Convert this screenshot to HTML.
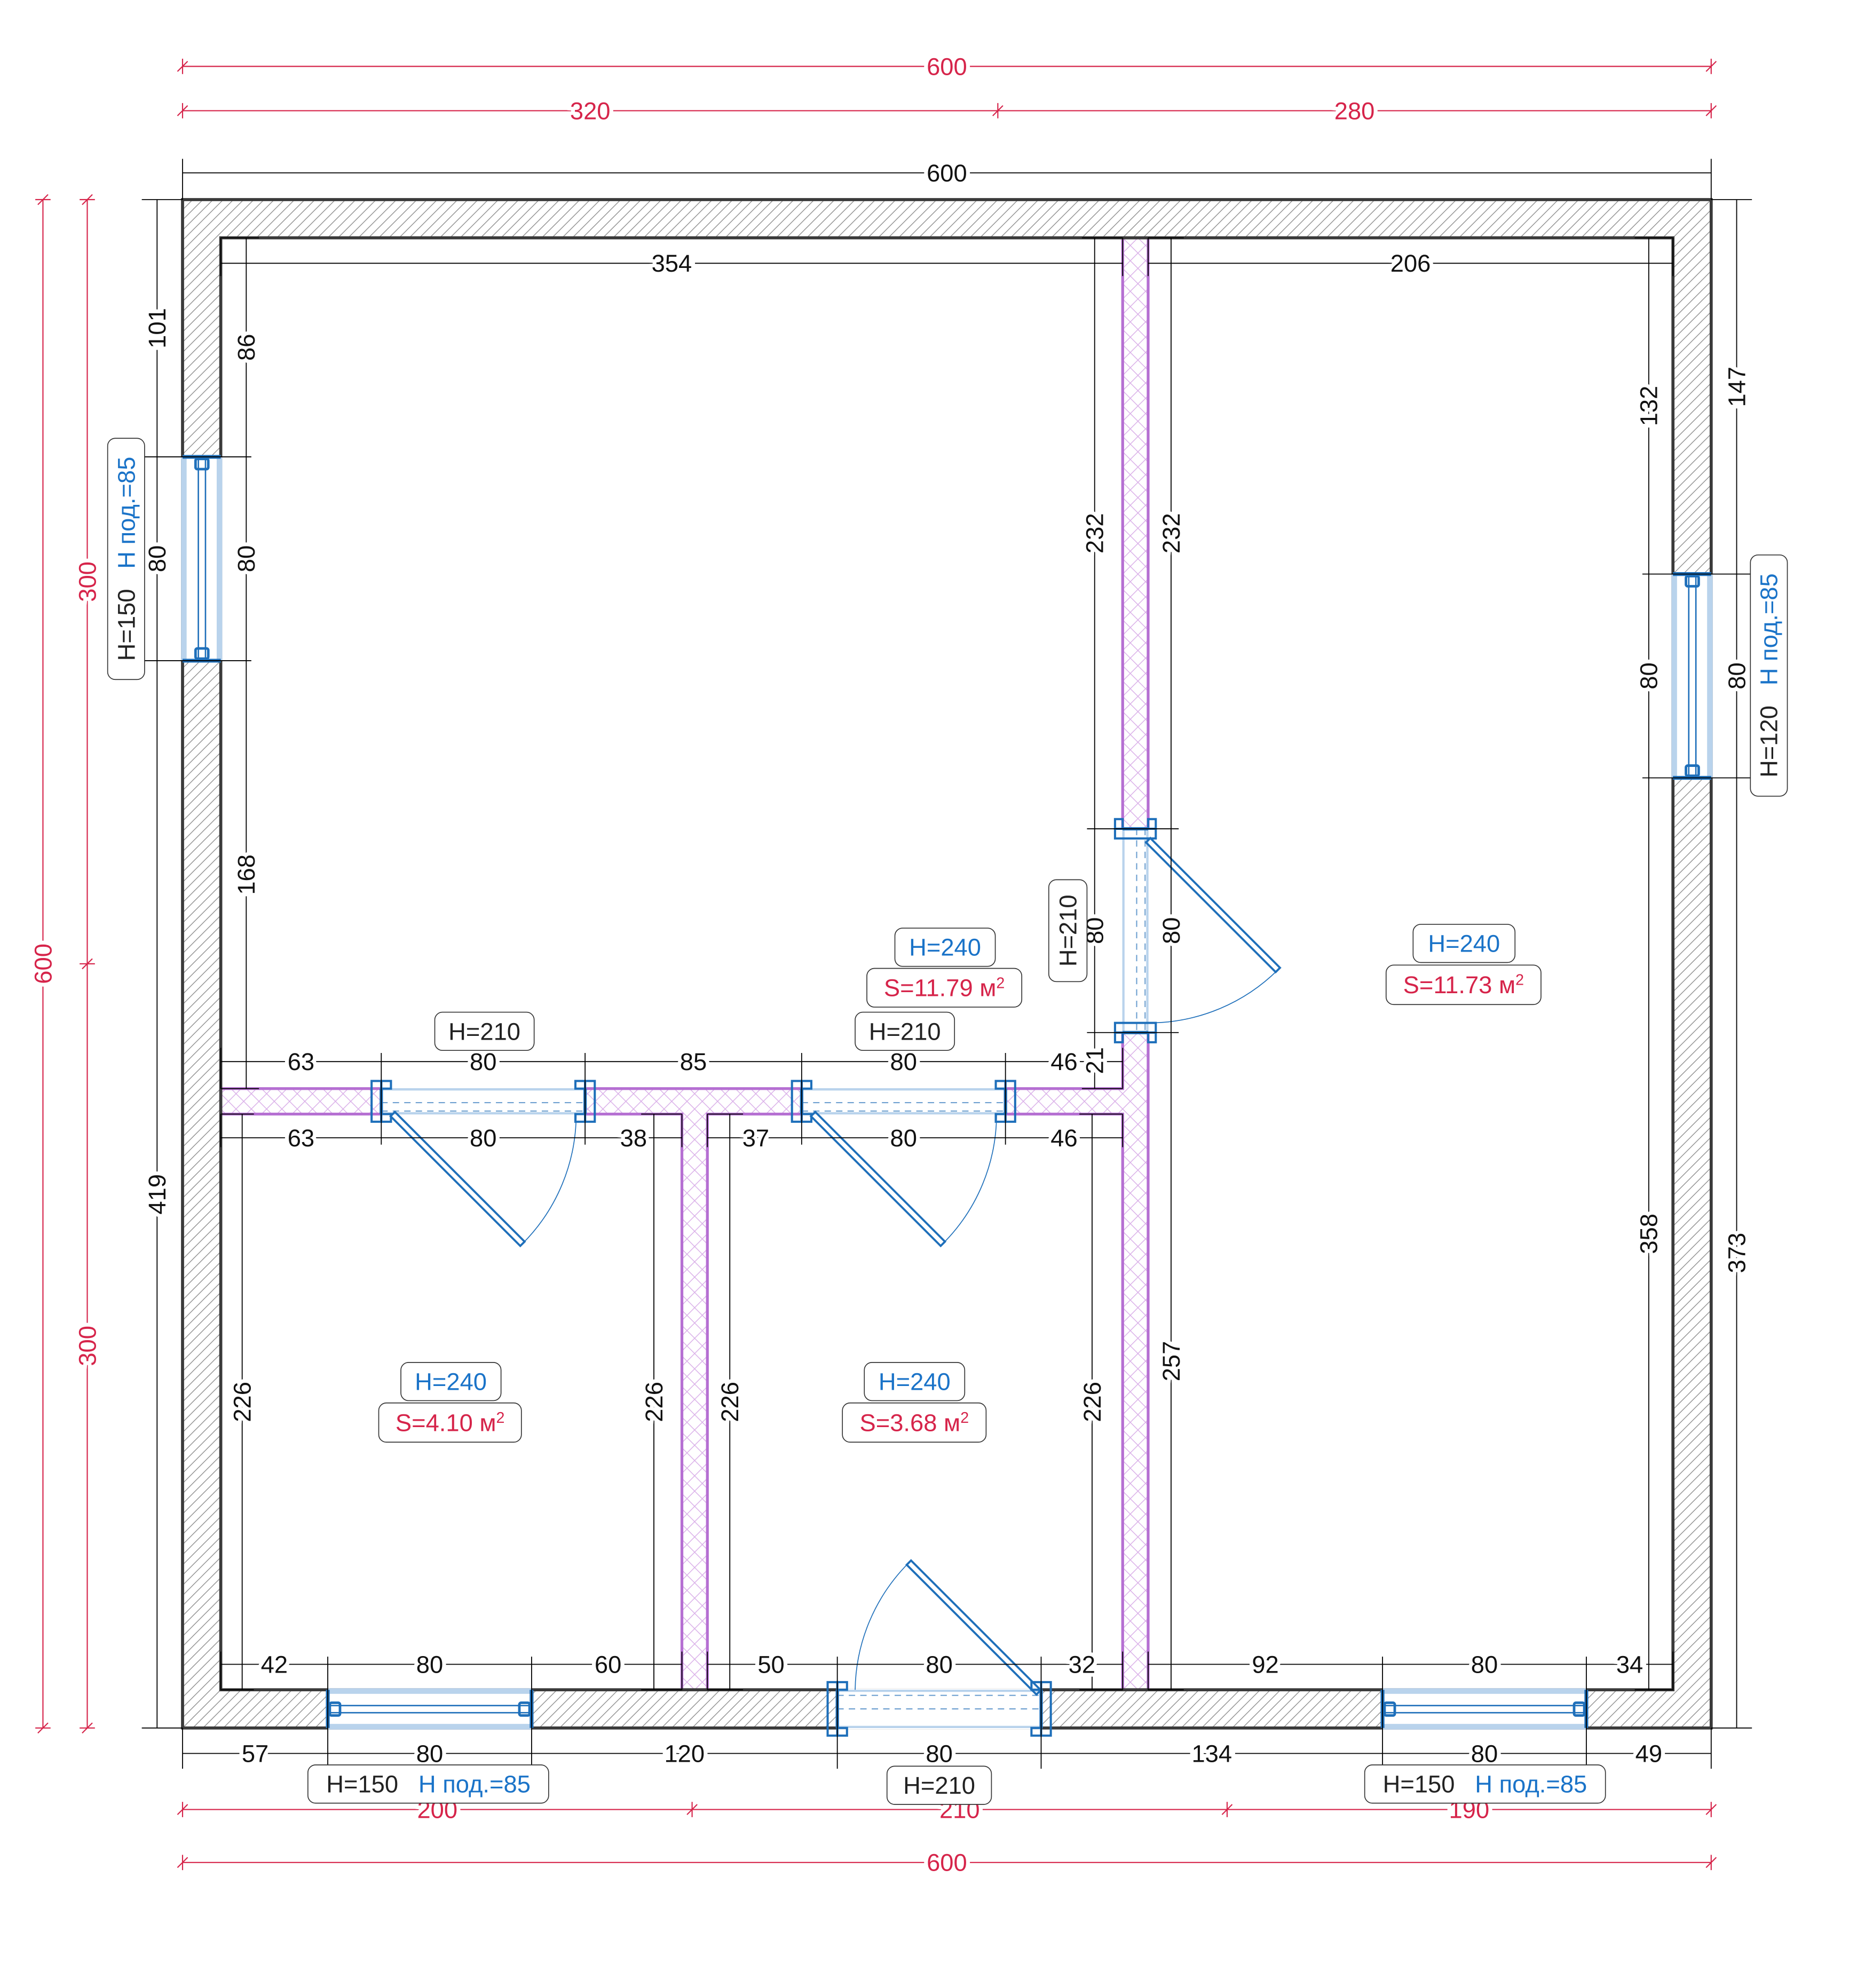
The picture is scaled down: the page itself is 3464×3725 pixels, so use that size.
<!DOCTYPE html>
<html><head><meta charset="utf-8"><style>
html,body{margin:0;padding:0;background:#fff}
svg{display:block}
text{font-family:"Liberation Sans",sans-serif;font-size:9.5px;text-anchor:middle}
.t{fill:#111;stroke:#fff;stroke-width:3;paint-order:stroke}
.tr{fill:#d6244a;stroke:#fff;stroke-width:3;paint-order:stroke}
.d{stroke:#000;stroke-width:.38;fill:none}
.r{stroke:#d6244a;stroke-width:.45;fill:none}
.box{fill:#fff;stroke:#333;stroke-width:.35}
.bl{fill:#1a73c8}
.rd{fill:#d6244a}
.bk{fill:#222}
.wb{stroke:#1e6fba;fill:none}
</style></head><body>
<svg width="3464" height="3725" viewBox="0 0 3464 3725" xmlns="http://www.w3.org/2000/svg">
<defs>
<pattern id="hatch" patternUnits="userSpaceOnUse" width="4" height="4">
<path d="M-1,1 L1,-1 M0,4 L4,0 M3,5 L5,3" stroke="#8a8a8a" stroke-width=".28"/>
</pattern>
<pattern id="cross" patternUnits="userSpaceOnUse" width="6" height="6">
<rect width="6" height="6" fill="#fff"/>
<path d="M0,0 L6,6 M0,6 L6,0" stroke="#d9aee8" stroke-width=".3"/>
</pattern>
</defs>
<rect width="3464" height="3725" fill="#fff"/>
<g transform="translate(342 374) scale(4.773)">

<path d="M0,0 H600 V600 H0 Z M15,15 V585 H585 V15 Z" fill="url(#hatch)" fill-rule="evenodd"/>
<path d="M15,349 H369 V15 H379 V585 H369 V359 H206 V585 H196 V359 H15 Z" fill="url(#cross)" stroke="#b56fd2" stroke-width="1.1"/>
<rect x="0" y="0" width="600" height="600" fill="none" stroke="#3a3a3a" stroke-width="1.2"/>
<rect x="15" y="15" width="570" height="570" fill="none" stroke="#3a3a3a" stroke-width="1.2"/>

<!-- WINDOWS -->
<g>
<rect x="-0.5" y="101" width="16" height="80" fill="#fff"/>
<rect x="-0.6" y="101" width="2.2" height="80" fill="#b9d3ec"/>
<rect x="13.4" y="101" width="2.2" height="80" fill="#b9d3ec"/>
<line x1="6.2" y1="101" x2="6.2" y2="181" class="wb" stroke-width=".55"/>
<line x1="9" y1="101" x2="9" y2="181" class="wb" stroke-width=".55"/>
<line x1="0" y1="101" x2="15" y2="101" class="wb" stroke-width="1.5"/>
<line x1="0" y1="181" x2="15" y2="181" class="wb" stroke-width="1.5"/>
<rect x="5.1" y="101.8" width="5" height="4" rx=".7" class="wb" stroke-width="1" fill="#fff"/>
<rect x="5.1" y="176.2" width="5" height="4" rx=".7" class="wb" stroke-width="1" fill="#fff"/>
</g>
<g>
<rect x="584.5" y="147" width="16" height="80" fill="#fff"/>
<rect x="584.4" y="147" width="2.2" height="80" fill="#b9d3ec"/>
<rect x="598.4" y="147" width="2.2" height="80" fill="#b9d3ec"/>
<line x1="591.2" y1="147" x2="591.2" y2="227" class="wb" stroke-width=".55"/>
<line x1="594" y1="147" x2="594" y2="227" class="wb" stroke-width=".55"/>
<line x1="585" y1="147" x2="600" y2="147" class="wb" stroke-width="1.5"/>
<line x1="585" y1="227" x2="600" y2="227" class="wb" stroke-width="1.5"/>
<rect x="590.1" y="147.8" width="5" height="4" rx=".7" class="wb" stroke-width="1" fill="#fff"/>
<rect x="590.1" y="222.2" width="5" height="4" rx=".7" class="wb" stroke-width="1" fill="#fff"/>
</g>
<g>
<rect x="57" y="584.5" width="80" height="16" fill="#fff"/>
<rect x="57" y="584.4" width="80" height="2.2" fill="#b9d3ec"/>
<rect x="57" y="598.4" width="80" height="2.2" fill="#b9d3ec"/>
<line x1="57" y1="591.2" x2="137" y2="591.2" class="wb" stroke-width=".55"/>
<line x1="57" y1="594" x2="137" y2="594" class="wb" stroke-width=".55"/>
<line x1="57" y1="585" x2="57" y2="600" class="wb" stroke-width="1.5"/>
<line x1="137" y1="585" x2="137" y2="600" class="wb" stroke-width="1.5"/>
<rect x="57.8" y="590.1" width="4" height="5" rx=".7" class="wb" stroke-width="1" fill="#fff"/>
<rect x="132.2" y="590.1" width="4" height="5" rx=".7" class="wb" stroke-width="1" fill="#fff"/>
</g>
<g>
<rect x="471" y="584.5" width="80" height="16" fill="#fff"/>
<rect x="471" y="584.4" width="80" height="2.2" fill="#b9d3ec"/>
<rect x="471" y="598.4" width="80" height="2.2" fill="#b9d3ec"/>
<line x1="471" y1="591.2" x2="551" y2="591.2" class="wb" stroke-width=".55"/>
<line x1="471" y1="594" x2="551" y2="594" class="wb" stroke-width=".55"/>
<line x1="471" y1="585" x2="471" y2="600" class="wb" stroke-width="1.5"/>
<line x1="551" y1="585" x2="551" y2="600" class="wb" stroke-width="1.5"/>
<rect x="471.8" y="590.1" width="4" height="5" rx=".7" class="wb" stroke-width="1" fill="#fff"/>
<rect x="546.2" y="590.1" width="4" height="5" rx=".7" class="wb" stroke-width="1" fill="#fff"/>
</g>

<!-- DOORS -->
<g>
<rect x="78" y="348.4" width="80" height="11.2" fill="#fff"/>
<line x1="78" y1="349.3" x2="158" y2="349.3" stroke="#b9d3ec" stroke-width=".9"/>
<line x1="78" y1="358.7" x2="158" y2="358.7" stroke="#b9d3ec" stroke-width=".9"/>
<line x1="78" y1="354.5" x2="158" y2="354.5" stroke="#6fa0d0" stroke-width=".45" stroke-dasharray="2.5 2"/>
<line x1="78" y1="357.8" x2="158" y2="357.8" stroke="#6fa0d0" stroke-width=".45" stroke-dasharray="2.5 2"/>
<rect x="74.2" y="346" width="3.8" height="16" class="wb" stroke-width=".85" fill="#fff"/>
<rect x="78" y="346" width="3.8" height="3" class="wb" stroke-width=".85" fill="none"/>
<rect x="78" y="359" width="3.8" height="3" class="wb" stroke-width=".85" fill="none"/>
<line x1="78" y1="349" x2="78" y2="359" class="wb" stroke-width="1.3"/>
<rect x="158" y="346" width="3.8" height="16" class="wb" stroke-width=".85" fill="#fff"/>
<rect x="154.2" y="346" width="3.8" height="3" class="wb" stroke-width=".85" fill="none"/>
<rect x="154.2" y="359" width="3.8" height="3" class="wb" stroke-width=".85" fill="none"/>
<line x1="158" y1="349" x2="158" y2="359" class="wb" stroke-width="1.3"/>
<g transform="translate(82.5 359) rotate(45)"><rect x="0" y="-1.2" width="72" height="2.4" class="wb" stroke-width=".8" fill="#fff"/></g>
<path d="M133.4,409.9 A72,72 0 0 0 154.5,359" class="wb" stroke-width=".35"/>
</g>
<g>
<rect x="243" y="348.4" width="80" height="11.2" fill="#fff"/>
<line x1="243" y1="349.3" x2="323" y2="349.3" stroke="#b9d3ec" stroke-width=".9"/>
<line x1="243" y1="358.7" x2="323" y2="358.7" stroke="#b9d3ec" stroke-width=".9"/>
<line x1="243" y1="354.5" x2="323" y2="354.5" stroke="#6fa0d0" stroke-width=".45" stroke-dasharray="2.5 2"/>
<line x1="243" y1="357.8" x2="323" y2="357.8" stroke="#6fa0d0" stroke-width=".45" stroke-dasharray="2.5 2"/>
<rect x="239.2" y="346" width="3.8" height="16" class="wb" stroke-width=".85" fill="#fff"/>
<rect x="243" y="346" width="3.8" height="3" class="wb" stroke-width=".85" fill="none"/>
<rect x="243" y="359" width="3.8" height="3" class="wb" stroke-width=".85" fill="none"/>
<line x1="243" y1="349" x2="243" y2="359" class="wb" stroke-width="1.3"/>
<rect x="323" y="346" width="3.8" height="16" class="wb" stroke-width=".85" fill="#fff"/>
<rect x="319.2" y="346" width="3.8" height="3" class="wb" stroke-width=".85" fill="none"/>
<rect x="319.2" y="359" width="3.8" height="3" class="wb" stroke-width=".85" fill="none"/>
<line x1="323" y1="349" x2="323" y2="359" class="wb" stroke-width="1.3"/>
<g transform="translate(247.5 359) rotate(45)"><rect x="0" y="-1.2" width="72" height="2.4" class="wb" stroke-width=".8" fill="#fff"/></g>
<path d="M298.4,409.9 A72,72 0 0 0 319.5,359" class="wb" stroke-width=".35"/>
</g>
<g>
<rect x="368.4" y="247" width="11.2" height="80" fill="#fff"/>
<line x1="369.3" y1="247" x2="369.3" y2="327" stroke="#b9d3ec" stroke-width=".9"/>
<line x1="378.7" y1="247" x2="378.7" y2="327" stroke="#b9d3ec" stroke-width=".9"/>
<line x1="374.5" y1="247" x2="374.5" y2="327" stroke="#6fa0d0" stroke-width=".45" stroke-dasharray="2.5 2"/>
<line x1="377.8" y1="247" x2="377.8" y2="327" stroke="#6fa0d0" stroke-width=".45" stroke-dasharray="2.5 2"/>
<rect x="366" y="247" width="16" height="3.8" class="wb" stroke-width=".85" fill="#fff"/>
<rect x="366" y="243.2" width="3" height="3.8" class="wb" stroke-width=".85" fill="none"/>
<rect x="379" y="243.2" width="3" height="3.8" class="wb" stroke-width=".85" fill="none"/>
<line x1="369" y1="247" x2="379" y2="247" class="wb" stroke-width="1.3"/>
<rect x="366" y="323.2" width="16" height="3.8" class="wb" stroke-width=".85" fill="#fff"/>
<rect x="366" y="327" width="3" height="3.8" class="wb" stroke-width=".85" fill="none"/>
<rect x="379" y="327" width="3" height="3.8" class="wb" stroke-width=".85" fill="none"/>
<line x1="369" y1="327" x2="379" y2="327" class="wb" stroke-width="1.3"/>
<g transform="translate(379 251.5) rotate(45)"><rect x="0" y="-1.2" width="72" height="2.4" class="wb" stroke-width=".8" fill="#fff"/></g>
<path d="M429.9,302.4 A72,72 0 0 1 380,323.2" class="wb" stroke-width=".35"/>
</g>
<g>
<rect x="257" y="584.4" width="80" height="16.2" fill="#fff"/>
<line x1="257" y1="585.4" x2="337" y2="585.4" stroke="#b9d3ec" stroke-width=".9"/>
<line x1="257" y1="599.6" x2="337" y2="599.6" stroke="#b9d3ec" stroke-width=".9"/>
<line x1="257" y1="587.2" x2="337" y2="587.2" stroke="#6fa0d0" stroke-width=".45" stroke-dasharray="2.5 2"/>
<line x1="257" y1="592.5" x2="337" y2="592.5" stroke="#6fa0d0" stroke-width=".45" stroke-dasharray="2.5 2"/>
<rect x="253.2" y="582" width="3.8" height="21" class="wb" stroke-width=".85" fill="#fff"/>
<rect x="257" y="582" width="3.8" height="3" class="wb" stroke-width=".85" fill="none"/>
<rect x="257" y="600" width="3.8" height="3" class="wb" stroke-width=".85" fill="none"/>
<line x1="257" y1="585" x2="257" y2="600" class="wb" stroke-width="1.3"/>
<rect x="337" y="582" width="3.8" height="21" class="wb" stroke-width=".85" fill="#fff"/>
<rect x="333.2" y="582" width="3.8" height="3" class="wb" stroke-width=".85" fill="none"/>
<rect x="333.2" y="600" width="3.8" height="3" class="wb" stroke-width=".85" fill="none"/>
<line x1="337" y1="585" x2="337" y2="600" class="wb" stroke-width="1.3"/>
<g transform="translate(336 586) rotate(-135)"><rect x="0" y="-1.2" width="72" height="2.4" class="wb" stroke-width=".8" fill="#fff"/></g>
<path d="M285.1,535.1 A72,72 0 0 0 264,585" class="wb" stroke-width=".35"/>
</g>

<!-- RED DIMENSIONS -->
<g class="r">
<line x1="0" y1="-52.3" x2="600" y2="-52.3"/>
<line x1="0" y1="-34.9" x2="600" y2="-34.9"/>
<line x1="0" y1="632" x2="600" y2="632"/>
<line x1="0" y1="652.8" x2="600" y2="652.8"/>
<line x1="-54.8" y1="0" x2="-54.8" y2="600"/>
<line x1="-37.4" y1="0" x2="-37.4" y2="600"/>
<path d="M0,-55.3V-49.3M-2,-50.3L2,-54.3 M600,-55.3V-49.3M598,-50.3L602,-54.3"/>
<path d="M0,-37.9V-31.9M-2,-32.9L2,-36.9 M320,-37.9V-31.9M318,-32.9L322,-36.9 M600,-37.9V-31.9M598,-32.9L602,-36.9"/>
<path d="M0,629V635M-2,634L2,630 M200,629V635M198,634L202,630 M410,629V635M408,634L412,630 M600,629V635M598,634L602,630"/>
<path d="M0,649.8V655.8M-2,654.8L2,650.8 M600,649.8V655.8M598,654.8L602,650.8"/>
<path d="M-57.8,0H-51.8M-56.8,2L-52.8,-2 M-57.8,600H-51.8M-56.8,602L-52.8,598"/>
<path d="M-40.4,0H-34.4M-39.4,2L-35.4,-2 M-40.4,300H-34.4M-39.4,302L-35.4,298 M-40.4,600H-34.4M-39.4,602L-35.4,598"/>
</g>
<g>
<text class="tr" x="300" y="-52.3" dy=".35em">600</text>
<text class="tr" x="160" y="-34.9" dy=".35em">320</text>
<text class="tr" x="460" y="-34.9" dy=".35em">280</text>
<text class="tr" x="100" y="632" dy=".35em">200</text>
<text class="tr" x="305" y="632" dy=".35em">210</text>
<text class="tr" x="505" y="632" dy=".35em">190</text>
<text class="tr" x="300" y="652.8" dy=".35em">600</text>
<text class="tr" transform="translate(-54.8 300) rotate(-90)" dy=".35em">600</text>
<text class="tr" transform="translate(-37.4 150) rotate(-90)" dy=".35em">300</text>
<text class="tr" transform="translate(-37.4 450) rotate(-90)" dy=".35em">300</text>
</g>

<!-- BLACK DIMENSIONS -->
<g class="d">
<path d="M0,-10.5H600 M0,-16V0 M600,-16V0"/>
<path d="M15,25H369 M15,15V30 M369,15V30 M379,25H585 M379,15V30 M585,15V30"/>
<path d="M-10,0V600 M-16,0H0 M-16,600H0 M-16,101H27 M-16,181H27"/>
<path d="M25,15V349 M15,15H30 M15,349H30"/>
<path d="M610,0V600 M600,0H616 M600,600H616 M573,147H616 M573,227H616"/>
<path d="M575.5,15V585 M570,15H585 M570,585H585"/>
<path d="M15,338.4H369 M15,368.3H196 M206,368.3H369 M15,333V349 M15,359V372 M369,333V349 M369,359V372 M196,359V372 M206,359V372 M78,335V371 M158,335V371 M243,335V371 M323,335V371"/>
<path d="M358,15V349 M388,15V585 M355,247H391 M355,327H391 M353,15H369 M379,15H393 M353,349H369 M379,585H393"/>
<path d="M23.4,359V585 M185,359V585 M214.8,359V585 M357,359V585 M15,359H28 M15,585H28 M180,359H196 M180,585H196 M206,359H220 M206,585H220 M352,359H369 M352,585H369"/>
<path d="M15,575H196 M206,575H369 M379,575H585 M15,570V585 M196,570V585 M206,570V585 M369,570V585 M379,570V585 M585,570V585 M57,572V616 M137,572V616 M257,572V616 M337,572V616 M471,572V616 M551,572V616"/>
<path d="M0,610H600 M0,600V616 M600,600V616"/>
</g>
<g>
<text class="t" x="300" y="-10.5" dy=".35em">600</text>
<text class="t" x="192" y="25" dy=".35em">354</text>
<text class="t" x="482" y="25" dy=".35em">206</text>
<text class="t" transform="translate(-10 50.5) rotate(-90)" dy=".35em">101</text>
<text class="t" transform="translate(-10 141) rotate(-90)" dy=".35em">80</text>
<text class="t" transform="translate(-10 390.5) rotate(-90)" dy=".35em">419</text>
<text class="t" transform="translate(25 58) rotate(-90)" dy=".35em">86</text>
<text class="t" transform="translate(25 141) rotate(-90)" dy=".35em">80</text>
<text class="t" transform="translate(25 265) rotate(-90)" dy=".35em">168</text>
<text class="t" transform="translate(610 73.5) rotate(-90)" dy=".35em">147</text>
<text class="t" transform="translate(610 187) rotate(-90)" dy=".35em">80</text>
<text class="t" transform="translate(610 413.5) rotate(-90)" dy=".35em">373</text>
<text class="t" transform="translate(575.5 81) rotate(-90)" dy=".35em">132</text>
<text class="t" transform="translate(575.5 187) rotate(-90)" dy=".35em">80</text>
<text class="t" transform="translate(575.5 406) rotate(-90)" dy=".35em">358</text>
<text class="t" x="46.5" y="338.4" dy=".35em">63</text>
<text class="t" x="118" y="338.4" dy=".35em">80</text>
<text class="t" x="200.5" y="338.4" dy=".35em">85</text>
<text class="t" x="283" y="338.4" dy=".35em">80</text>
<text class="t" x="346" y="338.4" dy=".35em">46</text>
<text class="t" x="46.5" y="368.3" dy=".35em">63</text>
<text class="t" x="118" y="368.3" dy=".35em">80</text>
<text class="t" x="177" y="368.3" dy=".35em">38</text>
<text class="t" x="225" y="368.3" dy=".35em">37</text>
<text class="t" x="283" y="368.3" dy=".35em">80</text>
<text class="t" x="346" y="368.3" dy=".35em">46</text>
<text class="t" transform="translate(358 131) rotate(-90)" dy=".35em">232</text>
<text class="t" transform="translate(358 287) rotate(-90)" dy=".35em">80</text>
<text class="t" transform="translate(358 338) rotate(-90)" dy=".35em">21</text>
<text class="t" transform="translate(388 131) rotate(-90)" dy=".35em">232</text>
<text class="t" transform="translate(388 287) rotate(-90)" dy=".35em">80</text>
<text class="t" transform="translate(388 456) rotate(-90)" dy=".35em">257</text>
<text class="t" transform="translate(23.4 472) rotate(-90)" dy=".35em">226</text>
<text class="t" transform="translate(185 472) rotate(-90)" dy=".35em">226</text>
<text class="t" transform="translate(214.8 472) rotate(-90)" dy=".35em">226</text>
<text class="t" transform="translate(357 472) rotate(-90)" dy=".35em">226</text>
<text class="t" x="36" y="575" dy=".35em">42</text>
<text class="t" x="97" y="575" dy=".35em">80</text>
<text class="t" x="167" y="575" dy=".35em">60</text>
<text class="t" x="231" y="575" dy=".35em">50</text>
<text class="t" x="297" y="575" dy=".35em">80</text>
<text class="t" x="353" y="575" dy=".35em">32</text>
<text class="t" x="425" y="575" dy=".35em">92</text>
<text class="t" x="511" y="575" dy=".35em">80</text>
<text class="t" x="568" y="575" dy=".35em">34</text>
<text class="t" x="28.5" y="610" dy=".35em">57</text>
<text class="t" x="97" y="610" dy=".35em">80</text>
<text class="t" x="197" y="610" dy=".35em">120</text>
<text class="t" x="297" y="610" dy=".35em">80</text>
<text class="t" x="404" y="610" dy=".35em">134</text>
<text class="t" x="511" y="610" dy=".35em">80</text>
<text class="t" x="575.5" y="610" dy=".35em">49</text>
</g>

<!-- LABEL BOXES -->
<rect class="box" x="279.6" y="286" width="39.4" height="15" rx="3"/>
<text class="bl" x="299.3" y="293.5" dy=".35em">H=240</text>
<rect class="box" x="268.6" y="301.8" width="60.8" height="15.2" rx="3"/>
<text class="rd" x="299" y="309.4" dy=".35em">S=11.79 м<tspan font-size="6" dy="-3.2">2</tspan></text>
<rect class="box" x="483" y="284.5" width="40" height="15" rx="3"/>
<text class="bl" x="503" y="292" dy=".35em">H=240</text>
<rect class="box" x="472.4" y="300.5" width="60.8" height="15.5" rx="3"/>
<text class="rd" x="502.8" y="308.2" dy=".35em">S=11.73 м<tspan font-size="6" dy="-3.2">2</tspan></text>
<rect class="box" x="85.7" y="456.5" width="39.3" height="15" rx="3"/>
<text class="bl" x="105.3" y="464" dy=".35em">H=240</text>
<rect class="box" x="77" y="472.4" width="56" height="15.4" rx="3"/>
<text class="rd" x="105" y="480.1" dy=".35em">S=4.10 м<tspan font-size="6" dy="-3.2">2</tspan></text>
<rect class="box" x="267.6" y="456.5" width="39.4" height="15" rx="3"/>
<text class="bl" x="287.3" y="464" dy=".35em">H=240</text>
<rect class="box" x="259" y="472.4" width="56.4" height="15.4" rx="3"/>
<text class="rd" x="287.2" y="480.1" dy=".35em">S=3.68 м<tspan font-size="6" dy="-3.2">2</tspan></text>
<rect class="box" x="99" y="319" width="39" height="15" rx="3"/>
<text class="bk" x="118.5" y="326.5" dy=".35em">H=210</text>
<rect class="box" x="264" y="319" width="39" height="15" rx="3"/>
<text class="bk" x="283.5" y="326.5" dy=".35em">H=210</text>
<rect class="box" x="276.5" y="615" width="41" height="15" rx="3"/>
<text class="bk" x="297" y="622.5" dy=".35em">H=210</text>
<rect class="box" x="340" y="267" width="15" height="40" rx="3"/>
<text class="bk" transform="translate(347.5 287) rotate(-90)" dy=".35em">H=210</text>
<rect class="box" x="49.2" y="614.5" width="94.5" height="15" rx="3"/>
<text x="96.5" y="622" dy=".35em" xml:space="preserve"><tspan class="bk">H=150</tspan><tspan class="bl">   Н под.=85</tspan></text>
<rect class="box" x="464" y="614.5" width="94.5" height="15" rx="3"/>
<text x="511.2" y="622" dy=".35em" xml:space="preserve"><tspan class="bk">H=150</tspan><tspan class="bl">   Н под.=85</tspan></text>
<rect class="box" x="-29.4" y="93.7" width="14.5" height="94.7" rx="3"/>
<text transform="translate(-22.1 141) rotate(-90)" dy=".35em" xml:space="preserve"><tspan class="bk">H=150</tspan><tspan class="bl">   Н под.=85</tspan></text>
<rect class="box" x="615.4" y="139.5" width="14.5" height="94.7" rx="3"/>
<text transform="translate(622.6 186.8) rotate(-90)" dy=".35em" xml:space="preserve"><tspan class="bk">H=120</tspan><tspan class="bl">   Н под.=85</tspan></text>
</g>
</svg>
</body></html>
